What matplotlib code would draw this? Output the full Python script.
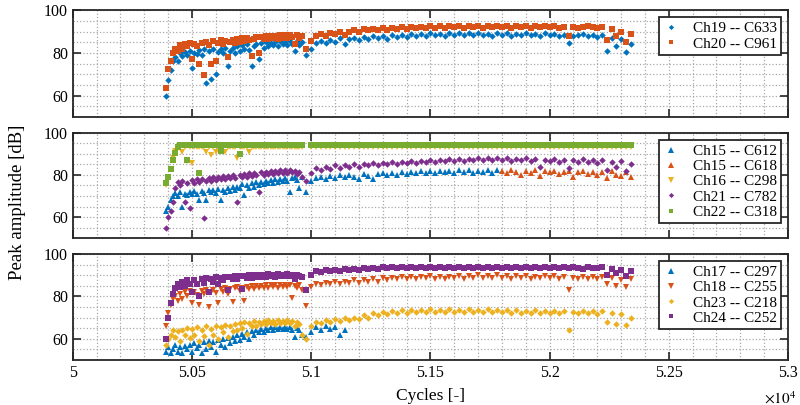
import numpy as np
import matplotlib
matplotlib.use('Agg')
import matplotlib.pyplot as plt
from matplotlib.ticker import MultipleLocator, FuncFormatter

plt.rcParams['font.family'] = ['Liberation Serif', 'DejaVu Serif']
plt.rcParams['mathtext.fontset'] = 'stix'

nan = float('nan')

# load cycles (segment A every 10, one point in the gap, segment B every 20)
cycles = [
    50390, 50400, 50410, 50420, 50430, 50440, 50450, 50460, 50470, 50480,
    50490, 50500, 50510, 50520, 50530, 50540, 50550, 50560, 50570, 50580,
    50590, 50600, 50610, 50620, 50630, 50640, 50650, 50660, 50670, 50680,
    50690, 50700, 50710, 50720, 50730, 50740, 50750, 50760, 50770, 50780,
    50790, 50800, 50810, 50820, 50830, 50840, 50850, 50860, 50870, 50880,
    50890, 50900, 50910, 50920, 50930, 50940, 50950, 50960,
    50980,
    51000, 51020, 51040, 51060, 51080, 51100, 51120, 51140, 51160, 51180,
    51200, 51220, 51240, 51260, 51280, 51300, 51320, 51340, 51360, 51380,
    51400, 51420, 51440, 51460, 51480, 51500, 51520, 51540, 51560, 51580,
    51600, 51620, 51640, 51660, 51680, 51700, 51720, 51740, 51760, 51780,
    51800, 51820, 51840, 51860, 51880, 51900, 51920, 51940, 51960, 51980,
    52000, 52020, 52040, 52060, 52080, 52100, 52120, 52140, 52160, 52180,
    52200, 52220, 52240, 52260, 52280, 52300, 52320, 52340,
]

# ---- top panel ----
ch19_c633 = [
    60, 67.5, 72, 76, 78, 76, 80, 78.5, 80.5, 79,
    81, 73, 80, 79.5, 81.5, 79, 82, 66, 81, 68,
    82, 70, 80.5, 82, 80, 82.5, 74, 81, 82.5, 80,
    83, 81, 83.5, 82, 84, 81.5, 74, 83, 84, 77,
    84.5, 82.5, 85, 83, 84.5, 83.5, 85, 83, 85.5, 84,
    85, 83.5, 85.5, 84, 81, 85.5, 83.5, 85,
    79,
    82, 84.5, 85.5, 84.5, 86, 85, 87, 84, 86.5, 87,
    86, 87.5, 86.5, 88, 87, 88, 86.5, 88.5, 87.5, 88.5,
    87.5, 89, 88, 89, 88, 89.5, 88.5, 89, 88, 89.5,
    88.5, 89.5, 88.5, 89.5, 88.5, 89.5, 88.5, 89, 88, 89.5,
    88.5, 89.5, 88, 89, 88.5, 89.5, 88.5, 89, 88, 89.5,
    88.5, 89, 88, 88.5, 84.5, 88, 88.5, 89, 88, 88.5,
    87.5, 88.5, 81, 87, 83, 86.5, 80.5, 84,
]
ch20_c961 = [
    63.5, 72.5, 76, 80, 82, 81, 83.5, 82, 84, 83,
    84.5, 77, 84, 83, 75, 84.5, 69.5, 85, 83.5, 75,
    85.5, 76, 84.5, 86, 84, 85.5, 78, 85, 86, 84.5,
    86.5, 85, 87, 85.5, 87, 86, 78.5, 86.5, 87.5, 80,
    87.5, 86.5, 88, 86.5, 88, 87, 88, 86.5, 88.5, 87,
    88.5, 87, 88.5, 87.5, 84, 88.5, 87, 88,
    82,
    85.5, 88, 89, 88, 89.5, 89, 90, 88.5, 90, 90.5,
    90, 91, 90.5, 91, 90.5, 91.5, 90.5, 91.5, 91, 92,
    91, 92, 91.5, 92, 91.5, 92.5, 91.5, 92.5, 91.5, 92.5,
    92, 92.5, 91.5, 92.5, 92, 92.5, 91.5, 92.5, 92, 92.5,
    92, 92.5, 91.5, 92.5, 92, 92.5, 91.5, 92.5, 92, 92.5,
    92, 92.5, 91.5, 92, 88, 92, 91.5, 92, 92.5, 92,
    91.5, 92, 86, 91, 88, 90, 85, 89,
]

# ---- middle panel ----
ch15_c612 = [  # ends at 51780
    63, 65, 68, 70, 71.5, 70, 72, 64.8, 71, 70.5,
    72, 71, 72.5, 71, 68, 72.5, 71.5, 68, 73, 72,
    73, 71.5, 73.5, 68, 73, 72, 74, 72.5, 74.5, 73,
    74.5, 74, 75.5, 70.5, 75, 74, 76, 74.5, 76.5, 75,
    76.5, 75.5, 77, 76, 77.5, 76, 78, 76.5, 78, 77,
    78.5, 77, 72, 78.5, 79, 77.5, 74, 79,
    72,
    77, 78.5, 79, 78, 79.5, 78.5, 80, 79, 80, 79,
    78, 80.5, 79.5, 78, 80.5, 81, 80, 81, 80, 81.5,
    80.5, 81.5, 81, 82, 81, 82, 81, 82, 81.5, 82,
    81, 82.5, 81.5, 82.5, 81, 82, 81.5, 82.5, 81, 82.5,
]
ch15_c618 = [  # starts at 51800
    82, 81, 82.5, 81.5, 80, 82, 81, 82.5, 79.5, 82,
    81.5, 82, 80.5, 81.5, 82, 79, 81.5, 82, 80.5, 81.5,
    80, 81.5, 78.5, 82, 80, 79.5, 81.5, 79,
]
ch16_c298 = [
    75, 78, 83, 88, 91.5, 93, 93.2, 91, 93.2, 86.8,
    93.2, 85.5, 93.2, 93.2, 93.2, 93.2, 93.2, 91, 93.2, 89.7,
    93.2, 91, 93.2, 93.2, 93.2, 91, 93.2, 93.2, 93.2, 93.2,
    88, 93.2, 93.2, 93.2, 93.2, 91, 93.2, 93.2, 93.2, 93.2,
    93.2, 93.2, 93.2, 93.2, 93.2, 93.2, 93.2, 93.2, 93.2, 93.2,
    93.2, 93.2, 93.2, 93.2, 93.2, 93.2, 93.2, 93.2,
    nan,
    93.2, 93.2, 93.2, 93.2, 93.2, 93.2, 93.2, 93.2, 93.2, 93.2,
    93.2, 93.2, 93.2, 93.2, 93.2, 93.2, 93.2, 93.2, 93.2, 93.2,
    93.2, 93.2, 93.2, 93.2, 93.2, 93.2, 93.2, 93.2, 93.2, 93.2,
    93.2, 93.2, 93.2, 93.2, 93.2, 93.2, 93.2, 93.2, 93.2, 93.2,
    93.2, 93.2, 93.2, 93.2, 93.2, 93.2, 93.2, 93.2, 93.2, 93.2,
    93.2, 93.2, 93.2, 93.2, 93.2, 93.2, 93.2, 93.2, 93.2, 93.2,
    93.2, 93.2, 93.2, 93.2, 93.2, 93.2, 93.2, 93.2,
]
ch21_c782 = [
    55, 60, 63, 67, 74, 76.5, 75, 77, 67, 76,
    64.5, 77.5, 76, 78, 76.5, 78, 59.5, 77, 78.5, 77,
    79, 77.5, 79, 78, 79.5, 78, 79.5, 78.5, 80, 78.5,
    67, 80, 79, 80.5, 79, 81, 79.5, 81, 80, 72,
    81.5, 80, 81.5, 80.5, 82, 80.5, 82, 81, 82.5, 81,
    82.5, 81, 82.5, 81.5, 82, 80.5, 81.5, 79,
    77,
    81, 83.5, 82.5, 84, 83, 84.5, 83.5, 84.5, 84, 85,
    84, 85, 84.5, 85.5, 84.5, 85.5, 85, 86, 85, 86,
    85.5, 86.5, 85.5, 86.5, 86, 87, 86, 87, 86.5, 87.5,
    86.5, 87.5, 86.5, 87.5, 87, 88, 87, 88, 87, 88,
    87, 88, 86.5, 87.5, 87, 88, 86.5, 87.5, 84, 87,
    86.5, 87.5, 86, 87, 83.5, 87, 86, 87.5, 86, 87,
    85.5, 87, 82.5, 86, 84, 86.5, 82, 85,
]
ch22_c318 = [
    76, 79, 83, 87, 90.5, 93.5, 94.2, 94.2, 94.2, 87,
    94.2, 94.2, 94.2, 94.2, 81, 94.2, 94.2, 94.2, 94.2, 94.2,
    94.2, 94.2, 94.2, 91.5, 94.2, 94.2, 94.2, 94.2, 94.2, 94.2,
    94.2, 90, 94.2, 94.2, 94.2, 94.2, 94.2, 94.2, 94.2, 94.2,
    94.2, 94.2, 94.2, 94.2, 94.2, 94.2, 94.2, 94.2, 94.2, 94.2,
    94.2, 94.2, 94.2, 94.2, 94.2, 94.2, 94.2, 94.2,
    nan,
    94.2, 94.2, 94.2, 94.2, 94.2, 94.2, 94.2, 94.2, 94.2, 94.2,
    94.2, 94.2, 94.2, 94.2, 94.2, 94.2, 94.2, 94.2, 94.2, 94.2,
    94.2, 94.2, 94.2, 94.2, 94.2, 94.2, 94.2, 94.2, 94.2, 94.2,
    94.2, 94.2, 94.2, 94.2, 94.2, 94.2, 94.2, 94.2, 94.2, 94.2,
    94.2, 94.2, 94.2, 94.2, 94.2, 94.2, 94.2, 94.2, 94.2, 94.2,
    94.2, 94.2, 94.2, 94.2, 94.2, 94.2, 94.2, 94.2, 94.2, 94.2,
    94.2, 94.2, 94.2, 94.2, 94.2, 94.2, 94.2, 94.2,
]

# ---- bottom panel ----
ch17_c297 = [  # ends at 51140
    54, 56, 53.5, 55, 57, 54, 56, 53.5, 56.5, 55,
    57, 54, 58, 55.5, 57, 53.5, 58.5, 55, 59, 56,
    58.5, 54, 59.5, 57, 60, 56, 60.5, 58, 61, 59,
    62, 59.5, 62.5, 61, 63, 60, 63.5, 62, 64, 63,
    64.5, 63, 65, 64, 65.5, 64, 65.5, 64.5, 65.5, 64.5,
    65.5, 64.5, 65.5, 64, 61, 65, 64, 62,
    61,
    63, 65.5, 64, 66, 64.5, 65.5, 62, 64,
]
ch18_c255 = [
    66, 72, 76, 79, 80, 78, 81, 79, 82, 80,
    82.5, 77, 82, 80.5, 76, 82.5, 81, 83, 75, 82,
    83, 81.5, 77, 83.5, 82, 84, 81, 83.5, 77.5, 84,
    84.5, 82.5, 84, 78, 84.5, 83.5, 85, 83.5, 85, 84,
    85, 84, 85.5, 84, 85.5, 84.5, 85.5, 84, 85.5, 84.5,
    85.5, 84.5, 85.5, 79.3, 85, 84, 85.5, 83,
    75.3,
    84.5, 86, 85.5, 86.5, 86, 87, 86, 87, 86.5, 87.5,
    86.5, 87.5, 87, 88, 87, 88.5, 87.5, 88.5, 88, 89,
    88, 89, 88, 89, 88.5, 89.5, 88, 89, 88, 89,
    88.5, 89.5, 88, 89.5, 88.5, 90, 88.5, 89.5, 88.5, 90,
    88.5, 89.5, 88, 89.5, 88.5, 89.5, 88, 89, 88.5, 89.5,
    88.5, 89.5, 88, 89, 83, 88.5, 88, 89, 88, 89,
    88, 89, 86, 88.5, 85, 87.5, 84.5, 88,
]
ch23_c218 = [
    57, 60, 62, 64, 61, 63.5, 59, 64, 62, 65,
    60.5, 64.5, 62, 65.5, 59, 64, 61.5, 66, 57, 64.5,
    62, 66, 60, 65.5, 63, 66.5, 61, 66, 63.5, 67,
    64, 67.5, 65, 68, 62.5, 67.5, 66, 68.5, 66, 68,
    67, 68.5, 67, 69, 67.5, 68.5, 67, 69, 67.5, 68.5,
    67.5, 69, 67.5, 68.5, 66, 68, 67, 62,
    60,
    66, 68, 67.5, 69, 68, 69.5, 68.5, 70, 69, 70,
    69.5, 71, 70, 72, 71, 72.5, 71.5, 73, 72, 73.5,
    72, 73.5, 72.5, 73.5, 72.5, 74, 72.5, 73.5, 72.5, 74,
    72.5, 73.5, 72.5, 74, 72.5, 73.5, 72.5, 74, 72.5, 73.5,
    72.5, 73.5, 72, 73.5, 72, 73, 72, 73.5, 72, 73,
    72, 73, 72, 73, 64, 72.5, 72, 73, 72, 73,
    71.5, 73, 68, 72, 67, 71.5, 66.5, 70,
]
ch24_c252 = [
    60, 70, 77, 81, 84, 86, 84.5, 87, 85, 87.5,
    86, 82, 87.5, 86, 80, 88, 86.5, 88.5, 82, 88,
    87, 89, 86, 88.5, 87.5, 89, 83, 89, 88, 89.5,
    88, 89.5, 83.5, 89.5, 88.5, 90, 88.5, 90, 89, 90,
    89, 90, 89, 90.5, 89.5, 90, 89, 90.5, 89.5, 90,
    89.5, 90.5, 89.5, 90, 88, 90, 89.5, 89,
    83,
    90, 92, 91.5, 92.5, 92, 92.5, 92, 93, 92.5, 93,
    92.5, 93.5, 93, 93.5, 93, 94, 93.5, 94, 93.5, 94,
    93.5, 94, 93.5, 94, 93.5, 94, 93.5, 94, 93.5, 94,
    93.5, 94, 93.5, 94, 93.5, 94, 93.5, 94, 93.5, 94,
    93.5, 94, 93.5, 94, 93.5, 94, 93.5, 94, 93.5, 94,
    93.5, 94, 93.5, 94, 93.5, 94, 93.5, 93, 94, 93.5,
    93.5, 94, 90, 93, 91, 92.5, 89.5, 92,
]

blue, orange, yellow, purple, green = '#0072BD', '#D95319', '#EDB120', '#7E2F8E', '#77AC30'

x = np.array(cycles)

panels = [
    [(x, ch19_c633, blue, 'D', 'Ch19 -- C633'),
     (x, ch20_c961, orange, 's', 'Ch20 -- C961')],
    [(x[:len(ch15_c612)], ch15_c612, blue, '^', 'Ch15 -- C612'),
     (x[-len(ch15_c618):], ch15_c618, orange, '^', 'Ch15 -- C618'),
     (x, ch16_c298, yellow, 'v', 'Ch16 -- C298'),
     (x, ch21_c782, purple, 'D', 'Ch21 -- C782'),
     (x, ch22_c318, green, 's', 'Ch22 -- C318')],
    [(x[:len(ch17_c297)], ch17_c297, blue, '^', 'Ch17 -- C297'),
     (x, ch18_c255, orange, 'v', 'Ch18 -- C255'),
     (x, ch23_c218, yellow, 'D', 'Ch23 -- C218'),
     (x, ch24_c252, purple, 's', 'Ch24 -- C252')],
]
sizes = {'D': 3.3, 's': 4.0, '^': 4.6, 'v': 4.6}

fig = plt.figure(figsize=(8, 4.05), dpi=100)
boxes = [(0.975, 0.711), (0.672, 0.412), (0.373, 0.111)]
axes = []
for (top, bot), series in zip(boxes, panels):
    ax = fig.add_axes([0.091, bot, 0.894, top - bot])
    for xs, ys, col, mk, lab in series:
        ax.plot(xs, ys, linestyle='none', marker=mk, ms=sizes[mk], mew=0, color=col, label=lab)
    ax.set_xlim(50000, 53000)
    ax.set_ylim(50, 100)
    ax.xaxis.set_major_locator(MultipleLocator(500))
    ax.xaxis.set_minor_locator(MultipleLocator(100))
    ax.yaxis.set_major_locator(MultipleLocator(20))
    ax.yaxis.set_minor_locator(MultipleLocator(5))
    ax.grid(True, which='both', linestyle=':', color='#a8a8a8', linewidth=0.9)
    ax.set_axisbelow(True)
    ax.tick_params(which='major', direction='in', top=True, right=True,
                   length=6, width=1.2, labelsize=11.5, color='#262626')
    ax.tick_params(which='minor', length=0)
    for sp in ax.spines.values():
        sp.set_linewidth(1.3)
        sp.set_color('#262626')
    ax.xaxis.set_major_formatter(FuncFormatter(lambda v, p: f'{v / 1e4:g}'))
    if len(axes) < 2:
        ax.tick_params(labelbottom=False)
    leg = ax.legend(loc='upper right', fontsize=11, frameon=True, fancybox=False,
                    edgecolor='#262626', framealpha=1, borderaxespad=0.45,
                    handlelength=1.0, handletextpad=0.9, labelspacing=0.1,
                    borderpad=0.3, numpoints=1, markerscale=0.8)
    leg.get_frame().set_linewidth(1.3)
    axes.append(ax)

axes[2].set_xlabel('Cycles [-]', fontsize=12.5, labelpad=5)
axes[2].text(1.012, -0.36, r'$\times 10^{4}$', transform=axes[2].transAxes,
             ha='right', va='center', fontsize=11)
fig.text(0.022, 0.50, 'Peak amplitude [dB]', rotation=90, ha='center', va='center',
         fontsize=13.5)

fig.savefig('out.png', dpi=100)
